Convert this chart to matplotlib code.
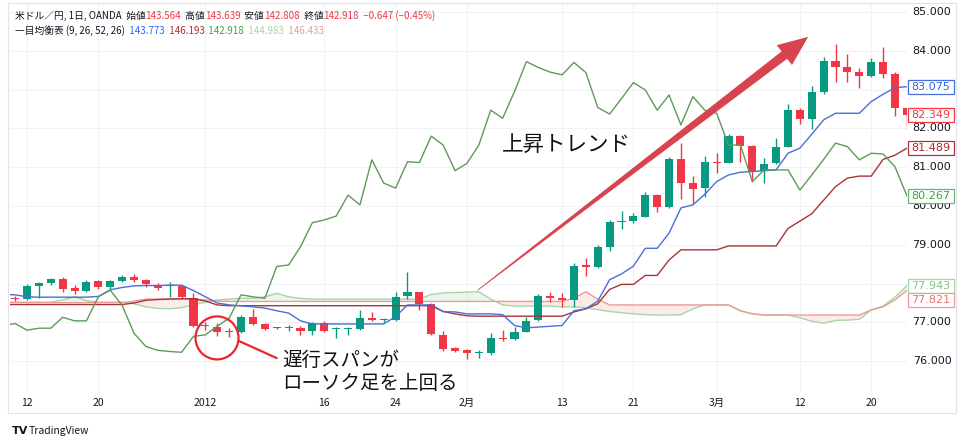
import matplotlib
matplotlib.use('Agg')
import matplotlib.pyplot as plt
import matplotlib.transforms as mtransforms
from matplotlib.patches import Rectangle, Polygon, Ellipse
import numpy as np

plt.rcParams['font.family'] = ['Noto Sans CJK JP', 'DejaVu Sans']

W, H, DPI = 964, 443, 100

# ---------------- data (bar index 0 = 2011-12-12, daily bars) ----------------
candle_idx = list(range(-1, 75))
opens = [77.64, 77.60, 77.94, 78.02, 78.12, 77.88, 77.81, 78.06, 77.91, 78.07,
         78.18, 78.09, 77.96, 77.94, 77.95, 77.64, 76.92, 76.88, 76.77, 76.75,
         77.13, 76.96, 76.85, 76.86, 76.86, 76.78, 76.99, 76.82, 76.82, 76.83,
         77.11, 77.05, 77.06, 77.68, 77.78, 77.47, 76.68, 76.35, 76.29, 76.21,
         76.22, 76.61, 76.57, 76.76, 77.06, 77.68, 77.64, 77.58, 78.47, 78.44,
         78.95, 79.58, 79.62, 79.72, 80.28, 79.98, 81.20, 80.58, 80.46, 81.14,
         81.12, 81.80, 81.55, 80.89, 81.10, 81.53, 82.47, 82.23, 82.95, 83.74,
         83.57, 83.45, 83.35, 83.71, 83.39, 82.52]
highs = [77.67, 78.00, 78.04, 78.15, 78.16, 77.96, 78.09, 78.09, 78.09, 78.22,
         78.24, 78.13, 78.02, 78.03, 77.96, 77.75, 77.00, 76.98, 76.86, 77.19,
         77.34, 76.98, 76.88, 76.93, 76.90, 77.02, 77.04, 76.88, 76.87, 77.32,
         77.28, 77.12, 77.78, 78.30, 77.79, 77.49, 76.78, 76.37, 76.31, 76.28,
         76.72, 76.80, 76.89, 77.15, 77.74, 77.79, 77.77, 78.52, 78.67, 79.00,
         79.64, 79.88, 79.81, 80.37, 80.30, 81.25, 81.63, 80.78, 81.30, 81.37,
         81.86, 81.83, 81.57, 81.23, 81.74, 82.63, 82.52, 83.08, 83.83, 84.17,
         83.93, 83.55, 83.81, 84.11, 83.45, 82.55]
lows = [77.56, 77.58, 77.62, 77.96, 77.78, 77.74, 77.79, 77.85, 77.87, 78.05,
        78.05, 77.90, 77.84, 77.66, 77.64, 76.89, 76.80, 76.66, 76.62, 76.73,
        76.94, 76.81, 76.83, 76.78, 76.68, 76.68, 76.74, 76.60, 76.68, 76.81,
        77.03, 77.00, 77.03, 77.60, 77.33, 76.68, 76.26, 76.24, 76.05, 76.08,
        76.15, 76.53, 76.55, 76.74, 77.04, 77.53, 77.40, 77.39, 78.19, 78.40,
        78.84, 79.40, 79.57, 79.71, 79.85, 79.94, 80.17, 80.05, 80.24, 80.86,
        81.10, 81.14, 80.63, 80.60, 81.08, 81.51, 82.11, 81.98, 82.89, 83.20,
        83.19, 83.03, 83.33, 83.29, 82.32, 81.99]
closes = [77.60, 77.94, 78.01, 78.11, 77.86, 77.81, 78.05, 77.91, 78.07, 78.18,
          78.09, 77.99, 77.88, 77.96, 77.66, 76.91, 76.90, 76.76, 76.75, 77.13,
          76.96, 76.84, 76.86, 76.87, 76.78, 76.99, 76.78, 76.84, 76.84, 77.11,
          77.05, 77.07, 77.66, 77.78, 77.47, 76.71, 76.32, 76.27, 76.21, 76.22,
          76.61, 76.57, 76.76, 77.04, 77.68, 77.62, 77.58, 78.45, 78.44, 78.95,
          79.58, 79.61, 79.74, 80.28, 79.98, 81.20, 80.60, 80.44, 81.13, 81.12,
          81.80, 81.55, 80.89, 81.07, 81.53, 82.47, 82.23, 82.95, 83.75, 83.57,
          83.45, 83.35, 83.71, 83.40, 82.53, 82.349]

line_idx = list(range(-2, 75))
tenkan = [77.72, 77.71, 77.66, 77.65, 77.65, 77.65, 77.65, 77.65, 77.67, 77.84,
          77.90, 77.94, 77.95, 77.95, 77.96, 77.96, 77.82, 77.66, 77.50, 77.45,
          77.43, 77.40, 77.37, 77.30, 77.24, 77.04, 76.96, 76.96, 76.96, 76.96,
          76.96, 76.96, 76.96, 77.15, 77.45, 77.45, 77.45, 77.28, 77.27, 77.22,
          77.22, 77.22, 77.20, 76.92, 76.86, 76.88, 76.90, 76.92, 77.30, 77.35,
          77.55, 78.10, 78.25, 78.45, 78.91, 78.91, 79.30, 79.95, 80.03, 80.30,
          80.63, 80.80, 80.87, 80.89, 80.91, 80.93, 81.36, 81.49, 81.85, 82.22,
          82.39, 82.39, 82.39, 82.69, 82.88, 83.05, 83.075]
kijun = [77.46, 77.46, 77.46, 77.46, 77.46, 77.46, 77.46, 77.46, 77.46, 77.46,
         77.46, 77.50, 77.57, 77.59, 77.60, 77.61, 77.61, 77.55, 77.45, 77.43,
         77.43, 77.43, 77.43, 77.43, 77.43, 77.43, 77.43, 77.43, 77.43, 77.43,
         77.43, 77.43, 77.43, 77.43, 77.43, 77.43, 77.43, 77.28, 77.22, 77.17,
         77.16, 77.16, 77.16, 77.16, 77.16, 77.16, 77.16, 77.16, 77.27, 77.35,
         77.48, 77.85, 77.98, 77.98, 78.21, 78.21, 78.61, 78.87, 78.87, 78.87,
         78.87, 78.97, 78.97, 78.97, 78.97, 78.97, 79.42, 79.61, 79.80, 80.15,
         80.50, 80.72, 80.77, 80.77, 81.20, 81.31, 81.489]
span_a = [77.52, 77.52, 77.52, 77.52, 77.52, 77.58, 77.66, 77.56, 77.52, 77.52,
          77.52, 77.48, 77.40, 77.36, 77.35, 77.38, 77.45, 77.52, 77.58, 77.60,
          77.62, 77.62, 77.66, 77.75, 77.66, 77.62, 77.60, 77.60, 77.60, 77.60,
          77.60, 77.60, 77.60, 77.60, 77.60, 77.60, 77.72, 77.76, 77.77, 77.78,
          77.79, 77.60, 77.45, 77.42, 77.42, 77.42, 77.42, 77.40, 77.40, 77.38,
          77.33, 77.28, 77.25, 77.22, 77.20, 77.19, 77.19, 77.20, 77.35, 77.45,
          77.45, 77.45, 77.30, 77.22, 77.19, 77.19, 77.19, 77.12, 77.03, 76.98,
          77.05, 77.06, 77.08, 77.32, 77.42, 77.65, 77.943]
span_b = [77.51, 77.51, 77.51, 77.51, 77.51, 77.51, 77.51, 77.51, 77.51, 77.51,
          77.51, 77.55, 77.60, 77.60, 77.60, 77.60, 77.60, 77.58, 77.55, 77.54,
          77.54, 77.54, 77.54, 77.54, 77.54, 77.54, 77.54, 77.54, 77.54, 77.54,
          77.54, 77.54, 77.54, 77.54, 77.54, 77.54, 77.54, 77.54, 77.54, 77.54,
          77.54, 77.54, 77.54, 77.54, 77.54, 77.54, 77.54, 77.54, 77.62, 77.79,
          77.60, 77.45, 77.45, 77.45, 77.45, 77.45, 77.45, 77.45, 77.45, 77.45,
          77.45, 77.45, 77.30, 77.22, 77.19, 77.19, 77.19, 77.19, 77.19, 77.19,
          77.19, 77.19, 77.19, 77.32, 77.40, 77.58, 77.821]
chikou = [76.92, 76.97, 76.80, 76.85, 76.85, 77.13, 77.04, 77.04, 77.66, 77.83,
          77.44, 76.72, 76.38, 76.28, 76.25, 76.23, 76.64, 76.68, 76.90, 77.11,
          77.71, 77.66, 77.62, 78.44, 78.48, 78.95, 79.57, 79.64, 79.74, 80.28,
          80.03, 81.19, 80.59, 80.46, 81.14, 81.12, 81.80, 81.57, 80.91, 81.10,
          81.57, 82.47, 82.26, 82.95, 83.72, 83.57, 83.45, 83.38, 83.70, 83.44,
          82.54, 82.37, 82.77, 83.18, 82.99, 82.47, 82.86, 82.09, 82.82, 82.47,
          82.39, 81.57, 81.57, 80.63, 80.93, 80.93, 80.93, 80.41, 80.80, 81.20,
          81.62, 81.53, 81.19, 81.36, 81.34, 81.01, 80.267]

date_tick_idx = [0, 6, 15, 25, 31, 37, 45, 51, 58, 65, 71]
date_tick_labels = ['12', '20', '2012', '16', '24', '2月', '13', '21', '3月', '12', '20']
price_grid = [76, 77, 78, 79, 80, 81, 82, 83, 84, 85]
price_tick_labels = [76, 77, 79, 80, 81, 82, 84, 85]   # 78 / 83 are hidden behind value boxes

# ---------------- colours ----------------
UP, DOWN = '#089981', '#F23645'
C_TENKAN, C_KIJUN, C_CHIKOU = '#4a6fd6', '#a83438', '#5e9a58'
C_A, C_B = '#a5d6a7', '#ef9a9a'
TXT = '#131722'

# ---------------- figure / axes ----------------
fig = plt.figure(figsize=(W / DPI, H / DPI), dpi=DPI)
ax_left, ax_right, ax_top, ax_bottom = 10, 907, 3, 392
ax = fig.add_axes([ax_left / W, 1 - ax_bottom / H, (ax_right - ax_left) / W, (ax_bottom - ax_top) / H])
ax.set_xlim(-1.43, 74.01)
ax.set_ylim(75.206, 85.232)
ax.set_xticks([])
ax.set_yticks([])
for s in ax.spines.values():
    s.set_visible(False)
ax.patch.set_alpha(0)

px_per_x = (ax_right - ax_left) / (74.01 + 1.43)
px_per_y = (ax_bottom - ax_top) / (85.232 - 75.206)

# frame
fig.patches.append(Rectangle((8 / W, 1 - 413 / H), (956 - 8) / W, (413 - 3) / H,
                             transform=fig.transFigure, fill=False, ec='#e0e3eb', lw=0.8))

# grid
for v in price_grid:
    ax.axhline(v, color='#f0f2f6', lw=0.8, zorder=0)
for i in date_tick_idx:
    ax.axvline(i, color='#f0f2f6', lw=0.8, zorder=0)

# cloud
li = np.array(line_idx, dtype=float)
a = np.array(span_a)
b = np.array(span_b)
ax.fill_between(li, a, b, where=a >= b, interpolate=True, color='#43a047', alpha=0.10, lw=0, zorder=1)
ax.fill_between(li, a, b, where=a < b, interpolate=True, color='#f44336', alpha=0.10, lw=0, zorder=1)
ax.plot(li, span_a, color=C_A, lw=1.0, zorder=1.5)
ax.plot(li, span_b, color=C_B, lw=1.0, zorder=1.5)

# candles
ci = np.array(candle_idx, dtype=float)
o, h, l, c = map(np.array, (opens, highs, lows, closes))
cols = np.where(c >= o, UP, DOWN)
ax.vlines(ci, l, h, colors=cols, lw=1.0, zorder=2)
body_h = np.maximum(np.abs(c - o), 0.025)
body_b = np.minimum(o, c)
ax.bar(ci, body_h, bottom=body_b, width=0.68, color=cols, lw=0, zorder=2.1)

# lines
ax.plot(li, kijun, color=C_KIJUN, lw=1.0, zorder=3)
ax.plot(li, tenkan, color=C_TENKAN, lw=1.0, zorder=3.1)
ax.plot(li, chikou, color=C_CHIKOU, lw=1.0, zorder=3.2)

# ---------------- price axis ----------------
tr_py = mtransforms.blended_transform_factory(fig.transFigure, ax.transData)
for v in price_tick_labels:
    ax.text(932 / W, v, f'{v:.3f}', transform=tr_py, ha='center', va='center',
            fontsize=8, color=TXT, clip_on=False, zorder=5, family='DejaVu Sans')

last_labels = [(tenkan[-1], C_TENKAN, '#2962ff'), (closes[-1], DOWN, DOWN),
               (kijun[-1], C_KIJUN, '#b22a2e'), (chikou[-1], '#66bb6a', '#43a047'),
               (span_a[-1], C_A, '#81c784'), (span_b[-1], C_B, '#e57373')]
last_labels.sort(key=lambda t: -t[0])
box_h_px = 14
prev_y = None
for val, ec, tc in last_labels:
    ypx = (85.232 - val) * px_per_y + ax_top
    if prev_y is not None and ypx < prev_y + box_h_px:
        ypx = prev_y + box_h_px
    prev_y = ypx
    yv = 85.232 - (ypx - ax_top) / px_per_y
    hh = (box_h_px / 2) / px_per_y
    ax.add_patch(Rectangle((908 / W, yv - hh), 46 / W, 2 * hh, transform=tr_py,
                           fc='white', ec=ec, lw=0.9, clip_on=False, zorder=8))
    ax.text(931 / W, yv, f'{val:.3f}', transform=tr_py, ha='center', va='center',
            fontsize=8, color=tc, clip_on=False, zorder=9, family='DejaVu Sans')

# ---------------- time axis ----------------
tr_tx = mtransforms.blended_transform_factory(ax.transData, fig.transFigure)
for i, lab in zip(date_tick_idx, date_tick_labels):
    ax.text(i, 1 - 403 / H, lab, transform=tr_tx, ha='center', va='center',
            fontsize=7.5, color=TXT, clip_on=False)

# ---------------- annotations ----------------
# trend arrow
p0 = ax.transData.transform((37.9, 77.83))
p1 = ax.transData.transform((65.7, 84.36))
d = p1 - p0
L = np.hypot(*d)
u = d / L
n = np.array([-u[1], u[0]])
head_len, head_hw, hw0, hw1 = 30, 12.5, 0.4, 4.6
base = p1 - u * head_len
pts = [p0 + n * hw0, base + n * hw1, base + n * head_hw, p1,
       base - n * head_hw, base - n * hw1, p0 - n * hw0]
fig.patches.append(Polygon(pts, closed=True, transform=mtransforms.IdentityTransform(),
                           fc='#d9434f', ec='none', zorder=6))

ax.text(39.9, 81.57, '上昇トレンド', fontsize=15.5, color='#111111', ha='left', va='center', zorder=7)

# circle + pointer
ax.add_patch(Ellipse((15.98, 76.60), 2 * 21.5 / px_per_x, 2 * 21.5 / px_per_y,
                     fill=False, ec='#e8262f', lw=1.6, zorder=7))
ax.plot([17.83, 21.0], [76.52, 76.08], color='#e8262f', lw=1.6, zorder=7, solid_capstyle='round')
ax.text(21.5, 76.03, '遅行スパンが', fontsize=14, color='#111111', ha='left', va='center',
        zorder=7, clip_on=False)
ax.text(21.5, 75.42, 'ローソク足を上回る', fontsize=14, color='#111111', ha='left', va='center',
        zorder=7, clip_on=False)

# ---------------- legend lines ----------------
renderer = fig.canvas.get_renderer()


def pieces(x_px, y_px, parts, size=7.0):
    x = x_px
    for s, col in parts:
        t = fig.text(x / W, 1 - y_px / H, s, color=col, fontsize=size, ha='left', va='center')
        x += t.get_window_extent(renderer).width


pieces(15, 16, [('米ドル／円, 1日, OANDA', TXT), ('  始値', TXT), ('143.564', DOWN),
                ('  高値', TXT), ('143.639', DOWN), ('  安値', TXT), ('142.808', DOWN),
                ('  終値', TXT), ('142.918', DOWN), ('  −0.647 (−0.45%)', DOWN)])
pieces(15, 31, [('一目均衡表 (9, 26, 52, 26)', TXT), ('  143.773', '#2962ff'),
                ('  146.193', '#b22a2e'), ('  142.918', '#43a047'),
                ('  144.983', '#a5d6a7'), ('  146.433', '#ef9a9a')])

# logo
fig.text(12 / W, 1 - 431 / H, 'TV', fontsize=8, fontweight='bold', color=TXT, ha='left', va='center',
         family='DejaVu Sans')
fig.text(29 / W, 1 - 431 / H, 'TradingView', fontsize=7.5, color=TXT, ha='left', va='center')

fig.savefig('out.png', dpi=DPI)
